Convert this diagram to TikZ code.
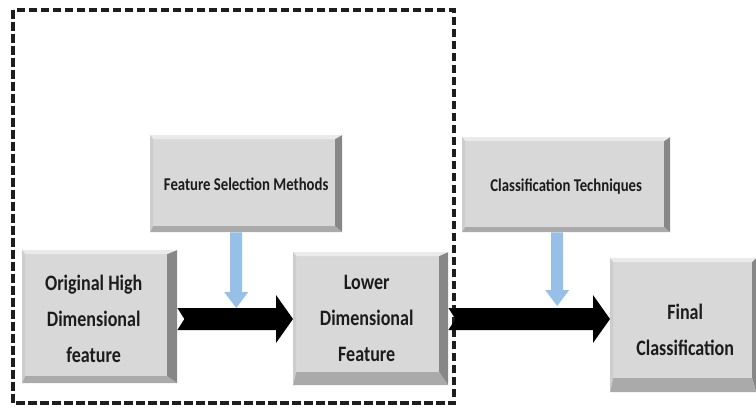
\documentclass[tikz,border=0pt]{standalone}
\usepackage{fontspec}
\setmainfont{Carlito}
\newfontfamily\condfont[FakeStretch=0.82]{Carlito}
\usetikzlibrary{calc}
\definecolor{bvface}{RGB}{216,216,216}
\definecolor{bvtop}{RGB}{234,234,234}
\definecolor{bvleft}{RGB}{205,205,205}
\definecolor{bvright}{RGB}{135,135,135}
\definecolor{bvbottom}{RGB}{170,170,170}
\definecolor{txtgray}{RGB}{28,28,28}
\definecolor{arrowblue}{RGB}{150,192,232}
\definecolor{dashgray}{RGB}{30,30,30}
\tikzset{
  bevelbox/.style n args={2}{rectangle, anchor=north west, inner sep=0pt, fill=bvface,
    path picture={
      \fill[bvtop] (path picture bounding box.north west) -- (path picture bounding box.north east)
        -- ([xshift=-#1,yshift=-4pt]path picture bounding box.north east)
        -- ([xshift=3pt,yshift=-4pt]path picture bounding box.north west) -- cycle;
      \fill[bvleft] (path picture bounding box.north west) -- ([xshift=3pt,yshift=-4pt]path picture bounding box.north west)
        -- ([xshift=3pt,yshift=#2]path picture bounding box.south west)
        -- (path picture bounding box.south west) -- cycle;
      \fill[bvright] (path picture bounding box.north east) -- (path picture bounding box.south east)
        -- ([xshift=-#1,yshift=#2]path picture bounding box.south east)
        -- ([xshift=-#1,yshift=-4pt]path picture bounding box.north east) -- cycle;
      \fill[bvbottom] (path picture bounding box.south west) -- (path picture bounding box.south east)
        -- ([xshift=-#1,yshift=#2]path picture bounding box.south east)
        -- ([xshift=3pt,yshift=#2]path picture bounding box.south west) -- cycle;
    }},
  boxlabel/.style={text=txtgray, align=center, inner sep=0pt},
  bigtext/.style={boxlabel, font=\condfont\fontsize{22}{36}\selectfont\bfseries},
  smalltext/.style={boxlabel, font=\condfont\fontsize{18}{20}\selectfont\bfseries},
  dashbox/.style={draw=dashgray, line width=3.4pt, dash pattern=on 8.5pt off 3.5pt},
  fatarrow/.style={fill=black},
  bluearrow/.style={fill=arrowblue}
}
\newcommand\myfatarrow[2]{%
  \fill[fatarrow] let \p1=(#1), \p2=(#2) in
    (\x1,\y1+11pt) -- (\x2-17pt,\y1+11pt) -- (\x2-17pt,\y1+24pt) -- (\x2,\y1)
    -- (\x2-17pt,\y1-24pt) -- (\x2-17pt,\y1-11pt) -- (\x1,\y1-11pt) -- (\x1+7pt,\y1) -- cycle;}
\newcommand\myvarrow[2]{%
  \fill[bluearrow] let \p1=(#1), \p2=(#2) in
    (\x1-6pt,\y1) -- (\x1+6pt,\y1) -- (\x1+6pt,\y2+16pt) -- (\x1+12pt,\y2+16pt) -- (\x1,\y2)
    -- (\x1-12pt,\y2+16pt) -- (\x1-6pt,\y2+16pt) -- cycle;}
\begin{document}
\begin{tikzpicture}[x=1pt,y=-1pt]
\useasboundingbox[fill=white] (0,0) rectangle (756,408);
% dashed frame
\draw[dashbox] (13,10) rectangle (454,403);
% boxes
\node[bevelbox={7pt}{6pt}, minimum width=192pt, minimum height=97pt,
  label={[smalltext, xshift=0pt, yshift=-1pt]center:Feature Selection Methods}] (fsm) at (150,135) {};
\node[bevelbox={6pt}{5pt}, minimum width=208pt, minimum height=95pt,
  label={[smalltext, xshift=0pt, yshift=-2pt]center:Classification Techniques}] (ct) at (462,137) {};
\node[bevelbox={10pt}{7pt}, minimum width=155pt, minimum height=133pt,
  label={[bigtext, xshift=-6pt, yshift=-2pt]center:{Original High\\Dimensional\\feature}}] (orig) at (22,250) {};
\node[bevelbox={9pt}{13pt}, minimum width=155pt, minimum height=133pt,
  label={[bigtext, xshift=-4pt, yshift=0pt]center:{Lower\\Dimensional\\Feature}}] (lower) at (293,252) {};
\node[bevelbox={4pt}{14pt}, minimum width=146pt, minimum height=134pt,
  label={[bigtext, xshift=2pt, yshift=-5pt]center:{Final\\Classification}}] (final) at (610,258) {};
% junction points
\coordinate (s1) at (orig.east |- 0,319);
\coordinate (e1) at (lower.west |- 0,319);
\coordinate (s2) at (lower.east |- 0,319);
\coordinate (e2) at (final.west |- 0,319);
\coordinate (b1s) at ([xshift=-10pt]fsm.south);
\coordinate (b1e) at (b1s |- 0,308);
\coordinate (b2s) at ([xshift=-9pt]ct.south);
\coordinate (b2e) at (b2s |- 0,306);
% arrows
\myfatarrow{s1}{e1}
\myfatarrow{s2}{e2}
\myvarrow{b1s}{b1e}
\myvarrow{b2s}{b2e}
\end{tikzpicture}
\end{document}
